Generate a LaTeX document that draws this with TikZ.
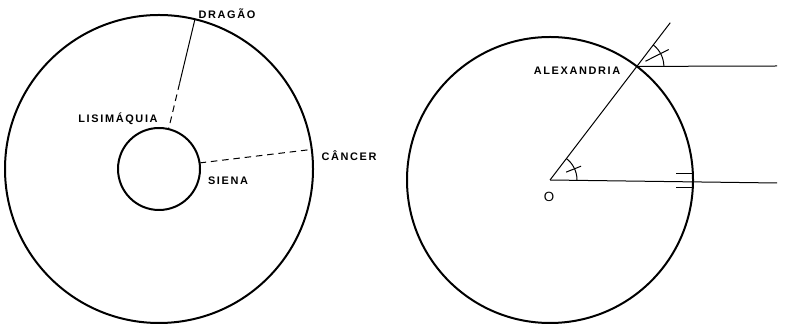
\documentclass[tikz,border=0pt]{standalone}
\usepackage{fontspec}
\setmainfont{Liberation Sans}[LetterSpace=15]
\usetikzlibrary{calc}
\tikzset{
  rim/.style={line width=1.5pt},
  thin/.style={line width=0.75pt},
  dsh/.style={line width=0.75pt, dash pattern=on 5pt off 3.5pt},
  lbl/.style={font=\bfseries\fontsize{8.2pt}{9pt}\selectfont, inner sep=0pt}
}
\begin{document}
\begin{tikzpicture}[x=0.75pt,y=0.75pt]
\useasboundingbox (0,0) rectangle (787,324);
% ---- left figure
\coordinate (C1) at (159,155);
\draw[rim] (C1) circle (154);
\draw[rim] (C1) circle (41);
\coordinate (D) at ($(C1)+(76.5:154)$);
\coordinate (Dm) at ($(C1)+(76.5:88)$);
\coordinate (Di) at ($(C1)+(76.5:42)$);
\draw[thin] (D) -- (Dm);
\draw[dsh] (Dm) -- (Di);
\coordinate (S) at ($(C1)+(8.5:41)$);
\coordinate (K) at ($(C1)+(7.3:154)$);
\draw[dsh] (S) -- (K);
\node[lbl] (dragao) at (227,310) {DRAGÃO};
\node[lbl] (lisim) at (118,205) {LISIMÁQUIA};
\node[lbl] (siena) at (228,143) {SIENA};
\node[lbl] (cancer) at (349,168) {CÂNCER};
% ---- right figure
\coordinate (O) at (550,144);
\draw[rim] (O) circle (143);
\coordinate (A) at ($(O)+(52.6:143)$);
\coordinate (Aext) at ($(O)+(52.6:198)$);
\draw[thin] (O) -- (Aext);
\coordinate (Ar) at (777,258);
\draw[thin] (A) -- (Ar);
\coordinate (Or) at (777,141);
\draw[thin] (O) -- (Or);
% angle arcs with ticks
\draw[thin] ($(O)+(0:27)$) arc (0:52.6:27);
\draw[thin] ($(O)+(26:18)$) -- ($(O)+(24:34)$);
\draw[thin] ($(A)+(0:27)$) arc (0:52.6:27);
\draw[thin] ($(A)+(31:10)$) -- ($(A)+(28:36)$);
% parallel marks
\coordinate (P1a) at (676,150);
\coordinate (P1b) at (692.8,150);
\coordinate (P2a) at (676,136);
\coordinate (P2b) at (692.6,136);
\draw[thin] (P1a) -- (P1b);
\draw[thin] (P2a) -- (P2b);
\node[lbl] (alex) at (577,253) {ALEXANDRIA};
\node[lbl, font=\fontsize{10pt}{11pt}\selectfont] (olbl) at (549,127) {O};
\end{tikzpicture}
\end{document}
